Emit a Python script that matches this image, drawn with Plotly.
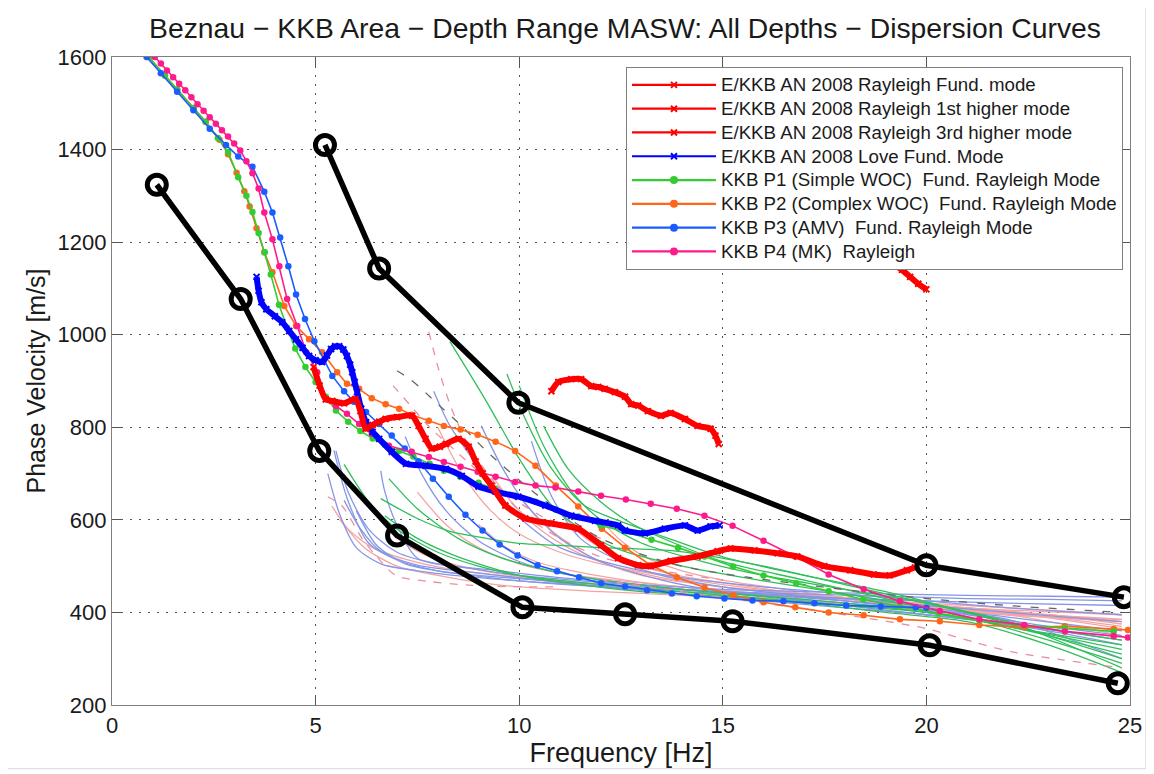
import plotly.graph_objects as go

# ---------------- data ----------------
title_text = "Beznau \u2212 KKB Area \u2212 Depth Range MASW: All Depths \u2212 Dispersion Curves"
x_ticks = [0, 5, 10, 15, 20, 25]
y_ticks = [200, 400, 600, 800, 1000, 1200, 1400, 1600]

# envelope (black)
env_low_f = [1.1, 3.16, 5.09, 7.0, 10.08, 12.6, 15.24, 20.08, 24.7]
env_low_v = [1324, 1077, 749, 566, 411, 396, 381, 329, 247]
env_high_f = [5.23, 6.56, 9.98, 20.0, 24.85]
env_high_v = [1410, 1143, 853, 502, 433]

# E/KKB AN 2008
an_fund_f = [4.95, 5.1, 5.25, 5.41, 5.7, 5.98, 6.1, 6.23, 6.4, 6.56, 6.72, 7.0, 7.37, 7.53, 7.7, 7.85, 8.05, 8.2,
             8.51, 8.76, 8.93, 9.1, 9.32, 9.66, 10.15, 10.79, 11.45, 12.01, 12.43, 12.92, 13.23, 13.72, 14.38, 14.87,
             15.19, 15.78, 16.34, 16.83, 17.49, 18.13, 18.71, 19.1, 19.52, 19.72]
an_fund_v = [930, 890, 860, 857, 852, 861, 835, 797, 805, 812, 818, 822, 825, 803, 775, 754, 758, 764,
             775, 758, 726, 700, 674, 631, 603, 592, 581, 545, 517, 502, 500, 511, 521, 532,
             538, 534, 528, 521, 500, 491, 482, 480, 491, 497]
an_1st_f = [10.79, 10.96, 11.28, 11.52, 11.77, 11.94, 12.1, 12.35, 12.6, 12.75, 12.92, 13.16, 13.48, 13.72, 14.07,
            14.38, 14.7, 14.82, 14.9]
an_1st_v = [878, 898, 904, 904, 889, 887, 883, 876, 866, 850, 847, 835, 825, 831, 818, 803, 797, 782, 764]
an_3rd_f = [18.6, 18.9, 19.15, 19.4, 19.6, 19.8, 20.0]
an_3rd_v = [1235, 1200, 1157, 1140, 1125, 1110, 1098]
love_f = [3.55, 3.6, 3.67, 3.79, 4.0, 4.18, 4.35, 4.52, 4.68, 4.84, 5.0, 5.16, 5.28, 5.38, 5.48, 5.58, 5.68, 5.77,
          5.85, 5.9, 5.96, 6.02, 6.12, 6.24, 6.4, 6.56, 6.87, 7.22, 7.7, 8.2, 8.59, 9.0, 9.42, 9.98, 10.64, 11.28,
          11.86, 12.43, 12.6, 13.09, 13.58, 14.07, 14.38, 14.7, 14.92]
love_v = [1125, 1095, 1070, 1055, 1040, 1027, 1008, 990, 972, 954, 945, 941, 955, 969, 975, 975, 968, 954,
          935, 919, 898, 876, 840, 811, 790, 775, 747, 721, 717, 710, 695, 672, 661, 650, 631, 609,
          598, 588, 577, 571, 581, 588, 577, 586, 588]

# KKB P1..P4
p1_f = [0.9, 1.3, 1.6, 2.0, 2.3, 2.6, 2.85, 3.1, 3.3, 3.45, 3.6, 3.75, 3.9, 4.1, 4.3, 4.5, 4.75, 5.0, 5.25, 5.5,
        5.8, 6.1, 6.4, 6.7, 7.05, 7.4, 7.8, 8.15, 8.55, 9.0, 9.4, 9.9, 10.4, 10.9, 11.45, 12.0, 12.6, 13.25, 13.9,
        14.55, 15.25, 16.0, 16.8, 17.6, 18.45, 19.35, 20.3, 21.3, 22.4, 23.4, 24.6]
p1_v = [1600, 1560, 1530, 1490, 1460, 1425, 1395, 1340, 1300, 1265, 1220, 1178, 1130, 1065, 1015, 970, 930, 898,
        866, 836, 812, 792, 776, 762, 749, 737, 721, 706, 693, 680, 667, 652, 639, 622, 607, 588, 575, 557, 540,
        521, 499, 480, 463, 446, 428, 413, 398, 383, 372, 366, 359]
p2_f = [0.9, 1.3, 1.6, 2.0, 2.3, 2.64, 2.85, 3.06, 3.25, 3.38, 3.55, 3.74, 3.94, 4.23, 4.52, 4.84, 5.16, 5.53, 5.77,
        6.07, 6.38, 6.72, 7.05, 7.36, 7.78, 8.15, 8.56, 8.98, 9.42, 9.9, 10.4, 10.9, 11.45, 12.03, 12.6, 13.23,
        13.87, 14.55, 15.26, 16.0, 16.78, 17.6, 18.46, 19.35, 20.33, 21.3, 22.4, 23.4, 24.6, 24.95]
p2_v = [1600, 1560, 1530, 1490, 1460, 1421, 1390, 1350, 1310, 1277, 1230, 1178, 1135, 1062, 1019, 990, 962, 919,
        894, 883, 863, 850, 840, 827, 814, 803, 795, 784, 769, 749, 717, 674, 629, 581, 540, 502, 476, 454, 437,
        422, 411, 400, 394, 385, 381, 373, 368, 370, 364, 362]
p3_f = [0.85, 1.2, 1.6, 2.0, 2.4, 2.8, 3.1, 3.45, 3.74, 3.94, 4.13, 4.33, 4.52, 4.74, 4.97, 5.2, 5.41, 5.7, 5.94,
        6.24, 6.56, 6.87, 7.19, 7.53, 7.88, 8.27, 8.68, 9.1, 9.52, 9.96, 10.45, 10.93, 11.47, 12.01, 12.6, 13.14,
        13.75, 14.36, 15.04, 15.73, 16.49, 17.25, 18.03, 18.88, 19.74, 20.0]
p3_v = [1600, 1565, 1525, 1485, 1445, 1410, 1385, 1363, 1309, 1264, 1210, 1148, 1087, 1034, 986, 945, 911, 878,
        855, 833, 807, 782, 754, 726, 689, 650, 611, 577, 547, 523, 502, 489, 476, 463, 456, 448, 441, 435, 430,
        426, 424, 420, 415, 413, 411, 410]
p4_f = [1.05, 1.2, 1.35, 1.5, 1.65, 1.8, 1.95, 2.1, 2.25, 2.4, 2.55, 2.7, 2.85, 3.0, 3.15, 3.3, 3.45, 3.6, 3.74,
        3.94, 4.11, 4.3, 4.55, 4.77, 5.04, 5.26, 5.5, 5.77, 6.07, 6.38, 6.8, 7.36, 7.78, 8.15, 8.56, 8.98, 9.42,
        9.9, 10.4, 10.89, 11.45, 12.01, 12.62, 13.23, 13.87, 14.55, 15.24, 16.0, 16.78, 17.6, 18.46, 19.35, 20.33,
        21.3, 22.4, 23.4, 24.6, 24.95]
p4_v = [1600, 1586, 1571, 1556, 1542, 1528, 1513, 1498, 1484, 1470, 1456, 1442, 1428, 1413, 1398, 1375, 1349, 1316,
        1264, 1206, 1148, 1077, 1019, 962, 919, 861, 846, 829, 807, 786, 760, 747, 736, 725, 715, 704, 693,
        682, 674, 670, 661, 652, 644, 635, 624, 609, 587, 555, 521, 482, 450, 424, 403,
        385, 373, 359, 349, 346]

# thin background curves (individual depth models)
green_thin_f = [
    [8.3, 9.2, 10.0, 10.8, 11.6, 12.4, 14.0, 16.0, 18.0, 20.0, 22.0, 24.8],
    [9.7, 10.15, 10.8, 11.6, 12.4, 13.5, 15.0, 17.0, 19.0, 21.0, 23.0, 24.8],
    [10.6, 11.2, 12.0, 12.8, 13.8, 15.0, 17.0, 19.0, 21.0, 23.0, 24.8],
    [6.6, 7.5, 8.3, 9.2, 10.0, 11.0, 12.0, 13.9, 16.0, 18.0, 20.0, 22.0, 24.8],
    [6.8, 7.5, 8.5, 9.5, 10.5, 12.0, 14.0, 16.0, 18.0, 20.0, 22.0, 24.8],
    [6.7, 7.5, 8.5, 10.0, 11.5, 13.0, 15.0, 17.0, 19.0, 21.0, 23.0, 24.8],
    [5.7, 6.3, 7.0, 8.0, 9.0, 10.0, 12.0, 14.0, 16.0, 18.0, 20.0, 22.0, 24.8],
    [10.0, 10.6, 11.3, 12.0, 13.0, 14.5, 16.0, 18.0, 20.0, 22.0, 24.8],
]
green_thin_v = [
    [985, 855, 732, 631, 575, 538, 500, 468, 440, 410, 370, 330],
    [915, 818, 710, 631, 600, 565, 520, 480, 445, 400, 350, 300],
    [803, 710, 639, 590, 550, 510, 470, 430, 390, 340, 290],
    [646, 603, 575, 560, 549, 545, 540, 532, 500, 460, 420, 380, 340],
    [689, 624, 560, 520, 495, 470, 450, 435, 420, 400, 370, 320],
    [609, 560, 520, 480, 460, 445, 435, 420, 400, 380, 330, 270],
    [720, 640, 580, 530, 500, 480, 460, 445, 430, 415, 400, 370, 310],
    [890, 760, 660, 600, 550, 510, 480, 450, 420, 380, 280],
]
blue_thin_f = [
    [5.45, 5.8, 6.3, 7.1, 8.0, 9.0, 10.0, 12.0, 14.0, 16.0, 18.0, 20.0, 22.0, 24.8],
    [6.6, 6.7, 7.0, 7.5, 8.8, 10.0, 12.0, 14.0, 16.0, 18.0, 20.0, 22.0, 24.8],
    [5.7, 6.1, 6.6, 7.5, 9.0, 10.5, 12.0, 14.0, 16.0, 18.0, 20.0, 22.0, 24.8],
    [7.9, 8.3, 8.9, 9.5, 10.2, 11.0, 12.5, 14.0, 16.0, 18.0, 20.0, 22.0, 24.8],
    [9.07, 9.6, 10.2, 11.0, 12.0, 13.5, 15.0, 17.0, 19.0, 21.0, 23.0, 24.8],
    [5.5, 5.8, 6.3, 7.0, 8.0, 9.5, 11.0, 13.0, 15.0, 17.0, 19.0, 21.0, 23.0, 24.8],
    [7.2, 7.6, 8.2, 9.0, 10.0, 11.0, 12.5, 14.0, 16.0, 18.0, 20.0, 22.0, 24.8],
    [6.0, 6.5, 7.2, 8.0, 9.0, 10.5, 12.0, 14.0, 16.0, 18.0, 20.0, 22.0, 24.8],
    [10.3, 10.8, 11.5, 12.5, 13.5, 15.0, 17.0, 19.0, 21.0, 23.0, 24.8],
    [5.3, 5.6, 6.0, 6.6, 7.5, 9.0, 11.0, 13.0, 15.0, 17.0, 19.0, 21.0, 23.0, 24.8],
]
blue_thin_v = [
    [750, 640, 550, 510, 490, 478, 468, 455, 445, 437, 430, 425, 420, 415],
    [706, 661, 588, 517, 495, 480, 465, 450, 438, 425, 410, 390, 360],
    [642, 581, 532, 502, 485, 470, 455, 440, 425, 410, 395, 375, 340],
    [878, 803, 726, 650, 590, 540, 500, 475, 455, 440, 425, 410, 395],
    [803, 710, 630, 560, 510, 470, 445, 425, 405, 385, 360, 330],
    [749, 660, 580, 530, 505, 490, 475, 460, 450, 445, 440, 437, 435, 433],
    [780, 700, 620, 555, 510, 485, 465, 450, 435, 420, 405, 385, 300],
    [620, 545, 505, 490, 480, 470, 460, 450, 440, 430, 415, 400, 380],
    [770, 650, 560, 510, 480, 455, 435, 415, 395, 370, 350],
    [700, 610, 540, 505, 490, 475, 462, 452, 445, 440, 435, 430, 428, 425],
]
salmon_thin_f = [
    [5.4, 5.8, 6.4, 7.2, 8.2, 9.5, 11.0, 13.0, 15.0, 17.0, 19.0, 21.0, 23.0, 24.8],
    [5.6, 6.2, 7.0, 8.0, 9.0, 10.0, 12.0, 14.0, 16.0, 18.0, 20.0, 22.0, 24.8],
    [8.0, 8.6, 9.3, 10.0, 11.0, 12.0, 13.5, 15.0, 17.0, 19.0, 21.0, 23.0, 24.8],
    [9.3, 9.8, 10.5, 11.3, 12.3, 13.5, 15.0, 17.0, 19.0, 21.0, 23.0, 24.8],
    [10.0, 10.5, 11.2, 12.0, 13.0, 14.5, 16.0, 18.0, 20.0, 22.0, 24.8],
    [6.5, 7.0, 7.8, 8.8, 10.0, 11.5, 13.0, 15.0, 17.0, 19.0, 21.0, 23.0, 24.8],
    [11.0, 11.5, 12.2, 13.0, 14.0, 15.5, 17.0, 19.0, 21.0, 23.0, 24.8],
    [7.5, 8.2, 9.0, 10.0, 11.0, 12.5, 14.0, 16.0, 18.0, 20.0, 22.0, 24.8],
    [12.0, 12.5, 13.2, 14.0, 15.0, 16.5, 18.0, 20.0, 22.0, 24.8],
    [9.0, 9.6, 10.4, 11.4, 12.6, 14.0, 16.0, 18.0, 20.0, 22.0, 24.8],
]
salmon_thin_v = [
    [630, 580, 540, 515, 495, 480, 465, 450, 438, 425, 410, 400, 390, 385],
    [600, 540, 500, 480, 465, 455, 445, 437, 428, 418, 405, 395, 380],
    [800, 700, 620, 570, 530, 505, 480, 460, 440, 425, 410, 395, 375],
    [700, 640, 580, 535, 500, 475, 455, 440, 420, 405, 390, 370],
    [650, 600, 550, 510, 480, 460, 445, 430, 415, 400, 365],
    [610, 560, 520, 495, 478, 465, 455, 445, 435, 425, 415, 405, 395],
    [620, 570, 530, 500, 478, 458, 440, 425, 410, 395, 380],
    [660, 590, 540, 505, 485, 468, 455, 440, 425, 410, 395, 350],
    [600, 555, 515, 490, 470, 450, 432, 415, 400, 385],
    [590, 545, 510, 488, 470, 455, 440, 428, 415, 405, 395],
]
dashed_pink_f = [
    [7.78, 8.02, 8.34, 8.76, 9.32, 10.0, 11.0, 12.0, 13.5, 15.0],
    [6.9, 7.3, 7.8, 8.3, 8.8, 9.5, 10.5, 12.0],
    [5.3, 5.65, 6.14, 6.48, 6.97, 7.78, 8.76, 9.7, 11.0],
    [12.0, 14.0, 16.0, 18.0, 20.0, 21.2, 22.2, 23.3, 24.8],
]
dashed_pink_v = [
    [1006, 926, 840, 760, 689, 620, 560, 520, 490, 470],
    [890, 850, 800, 760, 720, 670, 610, 560],
    [650, 630, 560, 523, 480, 467, 459, 456, 455],
    [470, 445, 420, 395, 365, 335, 313, 298, 280],
]
dashed_gray_f = [7.0, 7.3, 7.6, 8.0, 8.5, 9.3, 10.5, 12.0, 14.0, 17.0, 20.0, 22.0, 24.8]
dashed_gray_v = [922, 905, 883, 850, 810, 740, 650, 560, 500, 460, 430, 415, 400]

legend_names = [
    "E/KKB AN 2008 Rayleigh Fund. mode",
    "E/KKB AN 2008 Rayleigh 1st higher mode",
    "E/KKB AN 2008 Rayleigh 3rd higher mode",
    "E/KKB AN 2008 Love Fund. Mode",
    "KKB P1 (Simple WOC)  Fund. Rayleigh Mode",
    "KKB P2 (Complex WOC)  Fund. Rayleigh Mode",
    "KKB P3 (AMV)  Fund. Rayleigh Mode",
    "KKB P4 (MK)  Rayleigh",
]

# ---------------- styles ----------------
C_RED = "#ff0000"
C_LOVE = "#0000ff"
C_P1 = "#33cc33"
C_P2 = "#ff6619"
C_P3 = "#1a5cff"
C_P4 = "#ff1a8c"
FONT = "Liberation Sans, Arial, sans-serif"

# page offset (browser body margin) and plot box in page pixels
OFF = 8
PL, PR, PT, PB = 112, 1134, 57, 707

fig = go.Figure()

def thin(fx, fy, color, dash="solid", width=1.3, opacity=1.0):
    fig.add_trace(go.Scatter(x=fx, y=fy, mode="lines", showlegend=False, hoverinfo="skip",
                             opacity=opacity,
                             line=dict(color=color, width=width, dash=dash, shape="spline", smoothing=0.8)))

for fx, fy in zip(salmon_thin_f, salmon_thin_v):
    thin(fx, fy, "#f4a4a4")
for fx, fy in zip(blue_thin_f, blue_thin_v):
    thin(fx, fy, "#8596e6")
for fx, fy in zip(green_thin_f, green_thin_v):
    thin(fx, fy, "#2fbf5a")
for fx, fy in zip(dashed_pink_f, dashed_pink_v):
    thin(fx, fy, "#e8909c", dash="8px,8px")
thin(dashed_gray_f, dashed_gray_v, "#666666", dash="8px,10px")

def pcurve(fx, fy, color):
    fig.add_trace(go.Scatter(x=fx, y=fy, mode="lines+markers", showlegend=False, hoverinfo="skip",
                             line=dict(color=color, width=1.6),
                             marker=dict(symbol="circle", size=6.5, color=color)))

pcurve(p2_f, p2_v, C_P2)
pcurve(p1_f, p1_v, C_P1)
pcurve(p3_f, p3_v, C_P3)
pcurve(p4_f, p4_v, C_P4)

def thick(fx, fy, color):
    fig.add_trace(go.Scatter(x=fx, y=fy, mode="lines+markers", showlegend=False, hoverinfo="skip",
                             line=dict(color=color, width=6, shape="spline", smoothing=0.6),
                             marker=dict(symbol="x-thin", size=6, color=color,
                                         line=dict(color=color, width=2))))

thick(love_f, love_v, C_LOVE)
thick(an_fund_f, an_fund_v, C_RED)
thick(an_1st_f, an_1st_v, C_RED)
thick(an_3rd_f, an_3rd_v, C_RED)

for fx, fy in [(env_low_f, env_low_v), (env_high_f, env_high_v)]:
    fig.add_trace(go.Scatter(x=fx, y=fy, mode="lines+markers", showlegend=False, hoverinfo="skip",
                             line=dict(color="black", width=5.5),
                             marker=dict(symbol="circle-open", size=19, color="black",
                                         line=dict(color="black", width=5))))

# legend proxies
leg_styles = [
    (C_RED, "x-thin"), (C_RED, "x-thin"), (C_RED, "x-thin"), (C_LOVE, "x-thin"),
    (C_P1, "circle"), (C_P2, "circle"), (C_P3, "circle"), (C_P4, "circle"),
]
for name, (col, sym) in zip(legend_names, leg_styles):
    fig.add_trace(go.Scatter(x=[None], y=[None], mode="lines+markers",
                             name='<span style="font-size:18.7px">' + name + '</span>',
                             line=dict(color=col, width=2.2),
                             marker=dict(symbol=sym, size=6, color=col, line=dict(color=col, width=2))))

PW = PR - PL
PH = PB - PT
# figure border
fig.add_shape(type="rect", xref="paper", yref="paper",
              x0=(7 - PL) / PW, x1=(1150 - PL) / PW,
              y0=(PB - 771) / PH, y1=(PB - 4) / PH,
              line=dict(color="#d8d8d8", width=1), fillcolor="rgba(0,0,0,0)", layer="below")

axis_common = dict(
    showline=True, linecolor="#7f7f7f", linewidth=1.3, mirror="ticks",
    ticks="inside", ticklen=10, tickcolor="#555555", tickwidth=1,
    showgrid=True, gridcolor="#555555", gridwidth=1, griddash="2px,7px",
    zeroline=False, tickfont=dict(family=FONT, size=22, color="#1a1a1a"),
)

W, H = 1154 - OFF, 774 - OFF
fig.update_layout(
    width=W, height=H,
    margin=dict(l=PL - OFF, r=W - (PR - OFF), t=PT - OFF, b=H - (PB - OFF)),
    paper_bgcolor="white", plot_bgcolor="white",
    title=dict(text=title_text, x=(625 - OFF) / W, xanchor="center", y=1 - (28 - OFF) / H, yanchor="middle",
               font=dict(family=FONT, size=28.3, color="#1a1a1a")),
    xaxis=dict(range=[0, 25], tickvals=x_ticks, title=dict(text="Frequency [Hz]", standoff=6,
               font=dict(family=FONT, size=27, color="#1a1a1a")), **axis_common),
    yaxis=dict(range=[200, 1600], tickvals=y_ticks, title=dict(text="Phase Velocity [m/s]", standoff=4,
               font=dict(family=FONT, size=25, color="#1a1a1a")), **axis_common),
    legend=dict(x=(628 - PL) / PW, y=(PB - 67) / PH, xanchor="left", yanchor="top",
                bgcolor="white", bordercolor="#7f7f7f", borderwidth=1,
                font=dict(family=FONT, size=16, color="#1a1a1a"), tracegroupgap=0, itemwidth=84),
    showlegend=True,
)

fig.write_html("out.html")
